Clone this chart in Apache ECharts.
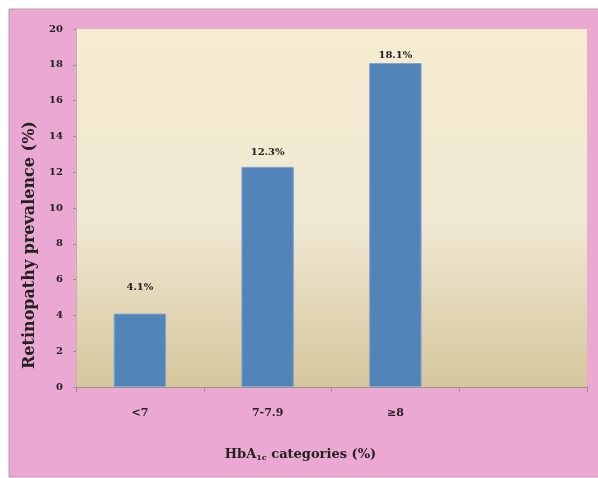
<!DOCTYPE html>
<html>
<head>
<meta charset="utf-8">
<script src="https://cdn.jsdelivr.net/npm/echarts@6/dist/echarts.min.js"></script>
<style>
  html, body { margin: 0; padding: 0; background: #ffffff; }
  #chart { width: 598px; height: 478px; }
</style>
</head>
<body>
<div id="chart"></div>
<script>
// HbA1c groups (the fourth slot is left empty on the axis)
const categories = ['<7', '7-7.9', '\u22658', ''];
// Retinopathy prevalence per group, in percent
const prevalence = [4.1, 12.3, 18.1, null];
// Value-axis ticks
const yTicks = { min: 0, max: 20, interval: 2 };

// gap between each bar top and its value label (px)
const labelGaps = [21, 9, 3, 0];

const serif = '"DejaVu Serif", "Liberation Serif", serif';
const chart = echarts.init(document.getElementById('chart'), null, { renderer: 'canvas' });

const barData = prevalence.map((v, i) => ({
  value: v,
  label: { distance: labelGaps[i] }
}));

chart.setOption({
  animation: false,
  backgroundColor: '#ffffff',
  graphic: [
    {
      type: 'rect',
      z: -10,
      shape: { x: 9, y: 9, width: 590, height: 468 },
      style: { fill: '#eaa8d2', stroke: '#b79aab', lineWidth: 1 }
    }
  ],
  grid: {
    left: 76, right: 11, top: 29, bottom: 91,
    show: true,
    borderWidth: 0,
    backgroundColor: {
      type: 'linear', x: 0, y: 0, x2: 0, y2: 1,
      colorStops: [
        { offset: 0, color: '#f6ecd1' },
        { offset: 0.55, color: '#efe7d1' },
        { offset: 1, color: '#d5c69c' }
      ]
    }
  },
  xAxis: {
    type: 'category',
    data: categories,
    boundaryGap: true,
    axisLine: { lineStyle: { color: '#9a948a', width: 1 } },
    axisTick: { show: true, length: 5, alignWithLabel: false, lineStyle: { color: '#9a948a' } },
    axisLabel: { color: '#222', fontFamily: serif, fontWeight: 'bold', fontSize: 11, margin: 21 },
    name: 'HbA{sub|1c} categories (%)',
    nameLocation: 'middle',
    nameGap: 61,
    nameTextStyle: {
      color: '#222', fontFamily: serif, fontWeight: 'bold', fontSize: 13,
      padding: [0, 62, 0, 0],
      rich: { sub: { fontFamily: serif, fontWeight: 'bold', fontSize: 8, verticalAlign: 'bottom', padding: [6, 0, 0, 0], color: '#222' } }
    }
  },
  yAxis: {
    type: 'value',
    min: yTicks.min, max: yTicks.max, interval: yTicks.interval,
    splitLine: { show: false },
    axisLine: { show: true, lineStyle: { color: '#bdb6a6', width: 1 } },
    axisTick: { show: true, length: 3, lineStyle: { color: '#9a948a' } },
    axisLabel: { color: '#222', fontFamily: serif, fontWeight: 'bold', fontSize: 10, margin: 13 },
    name: 'Retinopathy prevalence (%)',
    nameLocation: 'middle',
    nameGap: 38,
    nameTextStyle: {
      color: '#222', fontFamily: serif, fontWeight: 'bold', fontSize: 16,
      padding: [0, 74, 0, 0]
    }
  },
  series: [
    {
      type: 'bar',
      data: barData,
      barWidth: '41%',
      itemStyle: { color: '#5283b9', borderColor: '#7fa6cf', borderWidth: 1 },
      label: {
        show: true,
        position: 'top',
        formatter: p => p.value == null ? '' : p.value.toFixed(1) + '%',
        color: '#222', fontFamily: serif, fontWeight: 'bold', fontSize: 10
      }
    }
  ]
});
</script>
</body>
</html>
